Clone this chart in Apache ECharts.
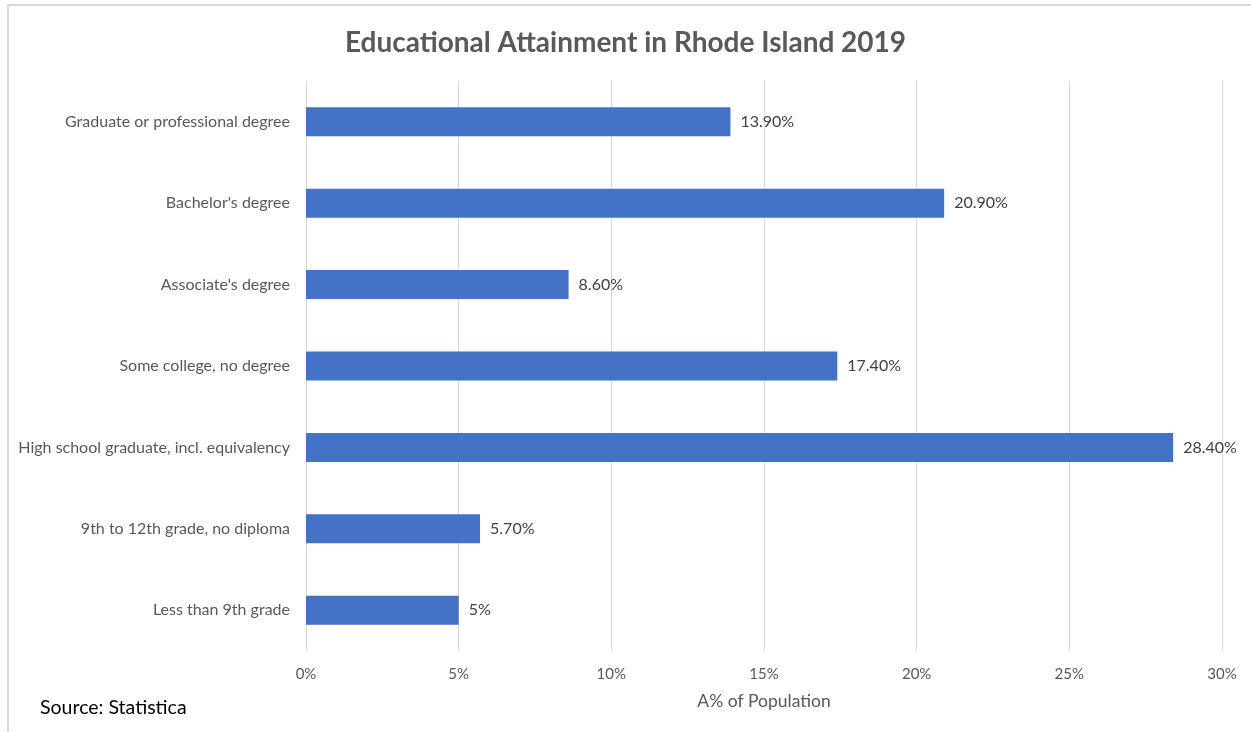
<!DOCTYPE html>
<html><head><meta charset="utf-8">
<script src="https://cdn.jsdelivr.net/npm/echarts@6/dist/echarts.min.js"></script>
<style>html,body{margin:0;padding:0;background:#fff}#c{width:1251px;height:732px}</style>
</head><body><div id="c"></div>
<script>
const categories = ["Less than 9th grade","9th to 12th grade, no diploma","High school graduate, incl. equivalency","Some college, no degree","Associate's degree","Bachelor's degree","Graduate or professional degree"];
const values = [5, 5.7, 28.4, 17.4, 8.6, 20.9, 13.9];
const valueLabels = ["5%","5.70%","28.40%","17.40%","8.60%","20.90%","13.90%"];
const xTicks = [0,5,10,15,20,25,30];
const FONT = 'Lato, "Open Sans", sans-serif';
const chart = echarts.init(document.getElementById('c'));
chart.setOption({
  animation:false,
  title:{text:'Educational Attainment in Rhode Island 2019',left:'center',top:24,
    textStyle:{fontFamily:FONT,fontSize:28,fontWeight:'bold',color:'#595959'}},
  graphic:[
    {type:'rect',shape:{x:8,y:5,width:1260,height:740},style:{fill:'none',stroke:'#d9d9d9',lineWidth:2},silent:true},
    {type:'text',left:40,top:698,style:{text:'Source: Statistica',fontFamily:FONT,fontSize:19.5,fill:'#000'}}
  ],
  grid:{left:306,right:29,top:81,bottom:81,containLabel:false},
  xAxis:{type:'value',min:0,max:30,interval:5,
    name:'A% of Population',nameLocation:'middle',nameGap:41,
    nameTextStyle:{fontFamily:FONT,fontSize:17.5,color:'#595959'},
    axisLine:{show:false},axisTick:{show:false},
    axisLabel:{formatter:v=>xTicks.includes(v)?v+'%':'',fontFamily:FONT,fontSize:15,color:'#595959',margin:16},
    splitLine:{show:true,lineStyle:{color:'#d9d9d9',width:1}}},
  yAxis:{type:'category',data:categories,
    axisLine:{show:false},axisTick:{show:false},
    axisLabel:{fontFamily:FONT,fontSize:16,color:'#595959',margin:16}},
  series:[{type:'bar',data:values,barWidth:29,itemStyle:{color:'#4472c4'},
    label:{show:true,position:'right',distance:10,formatter:p=>valueLabels[p.dataIndex],
      fontFamily:FONT,fontSize:16,color:'#404040'}}]
});
</script></body></html>
